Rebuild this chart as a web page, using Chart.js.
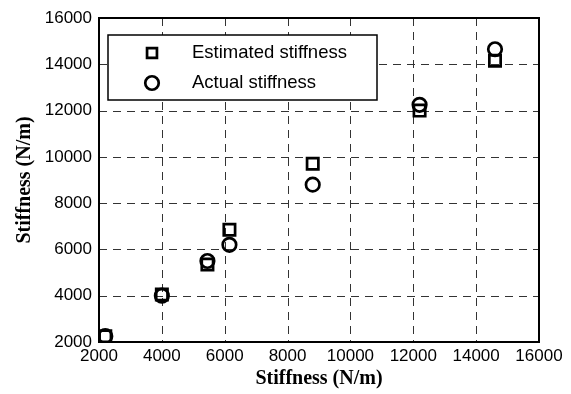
<!DOCTYPE html>
<html>
<head>
<meta charset="utf-8">
<script src="https://cdn.jsdelivr.net/npm/chart.js@4/dist/chart.umd.min.js"></script>
<style>
  html, body { margin: 0; padding: 0; background: #fff; }
  #wrap { width: 571px; height: 394px; }
</style>
</head>
<body>
<div id="wrap"><canvas id="grafico" width="571" height="394"></canvas></div>
<script>
// valores
const stiffnessX = [2200, 4000, 5450, 6150, 8800, 12200, 14600];
const estimated = [2250, 4050, 5350, 6850, 9700, 12000, 14150];
const actual = [2250, 4000, 5500, 6200, 8800, 12250, 14650];
const seriesNames = ["Estimated stiffness", "Actual stiffness"];
const axisTitle = "Stiffness (N/m)";

const toPoints = (ys) => stiffnessX.map((x, i) => ({ x: x, y: ys[i] }));

// rejilla punteada usando las escalas del grafico
const dashedGrid = {
  id: "dashedGrid",
  beforeDatasetsDraw(chart) {
    const ctx = chart.ctx;
    const a = chart.chartArea;
    const sx = chart.scales.x, sy = chart.scales.y;
    ctx.save();
    ctx.strokeStyle = "#333";
    ctx.lineWidth = 1;
    ctx.setLineDash([8, 6]);
    sx.ticks.forEach((t) => {
      if (t.value <= sx.min || t.value >= sx.max) return;
      const px = Math.round(sx.getPixelForValue(t.value)) + 0.5;
      ctx.beginPath();
      ctx.moveTo(px, a.top);
      ctx.lineTo(px, a.bottom);
      ctx.stroke();
    });
    sy.ticks.forEach((t) => {
      if (t.value <= sy.min || t.value >= sy.max) return;
      const py = Math.round(sy.getPixelForValue(t.value)) + 0.5;
      ctx.beginPath();
      ctx.moveTo(a.left, py);
      ctx.lineTo(a.right, py);
      ctx.stroke();
    });
    ctx.restore();
  }
};

// caja del area y leyenda dentro del grafico
const legendMarkerRadius = [7, 6.75];
const boxLegend = {
  id: "boxLegend",
  afterDraw(chart) {
    const ctx = chart.ctx;
    const a = chart.chartArea;
    ctx.save();
    ctx.strokeStyle = "#000";
    ctx.lineWidth = 2;
    ctx.strokeRect(a.left, a.top, a.right - a.left, a.bottom - a.top);

    // leyenda
    const lx = 108, ly = 35, lw = 269, lh = 65;
    ctx.fillStyle = "#fff";
    ctx.fillRect(lx, ly, lw, lh);
    ctx.lineWidth = 1.5;
    ctx.strokeRect(lx, ly, lw, lh);

    const rows = [ly + 18, ly + 48];
    chart.data.datasets.forEach((ds, i) => {
      ctx.fillStyle = "rgba(0,0,0,0)";
      ctx.strokeStyle = "#000";
      ctx.lineWidth = ds.borderWidth;
      Chart.helpers.drawPoint(ctx, {
        pointStyle: ds.pointStyle,
        radius: legendMarkerRadius[i],
        borderWidth: ds.borderWidth
      }, 152, rows[i]);
      ctx.fillStyle = "#000";
      ctx.font = "18.5px 'Liberation Sans', Arial, sans-serif";
      ctx.textAlign = "left";
      ctx.textBaseline = "middle";
      ctx.fillText(ds.label, 192, rows[i]);
    });
    ctx.restore();
  }
};

const tickFont = { family: "'Liberation Sans', Arial, sans-serif", size: 17 };
const titleFont = { family: "'Liberation Serif', 'Times New Roman', serif", size: 20, weight: "bold" };

new Chart(document.getElementById("grafico"), {
  type: "scatter",
  data: {
    datasets: [{
      label: seriesNames[0],
      data: toPoints(estimated),
      pointStyle: "rect",
      pointRadius: 8,
      pointHoverRadius: 8,
      borderColor: "#000",
      backgroundColor: "rgba(0,0,0,0)",
      borderWidth: 2.7
    }, {
      label: seriesNames[1],
      data: toPoints(actual),
      pointStyle: "circle",
      pointRadius: 6.75,
      pointHoverRadius: 6.75,
      borderColor: "#000",
      backgroundColor: "rgba(0,0,0,0)",
      borderWidth: 2.7
    }]
  },
  options: {
    responsive: false,
    animation: false,
    layout: { padding: { left: 13, right: 32, top: 18, bottom: 0 } },
    plugins: {
      legend: { display: false },
      tooltip: { enabled: false }
    },
    scales: {
      x: {
        type: "linear",
        min: 2000,
        max: 16000,
        ticks: {
          stepSize: 2000,
          color: "#000",
          padding: 4,
          font: tickFont,
          callback: (v) => String(v)
        },
        grid: { display: false, drawTicks: false },
        border: { display: false },
        title: {
          display: true,
          text: axisTitle,
          color: "#000",
          padding: { top: 0, bottom: 3 },
          font: titleFont
        },
        afterFit: (s) => { s.height = 52; }
      },
      y: {
        type: "linear",
        min: 2000,
        max: 16000,
        ticks: {
          stepSize: 2000,
          color: "#000",
          padding: 7,
          font: tickFont,
          callback: (v) => String(v)
        },
        grid: { display: false, drawTicks: false },
        border: { display: false },
        title: {
          display: true,
          text: axisTitle,
          color: "#000",
          padding: { top: 0, bottom: 0 },
          font: titleFont
        },
        afterFit: (s) => { s.width = 86; }
      }
    }
  },
  plugins: [dashedGrid, boxLegend]
});
</script>
</body>
</html>
